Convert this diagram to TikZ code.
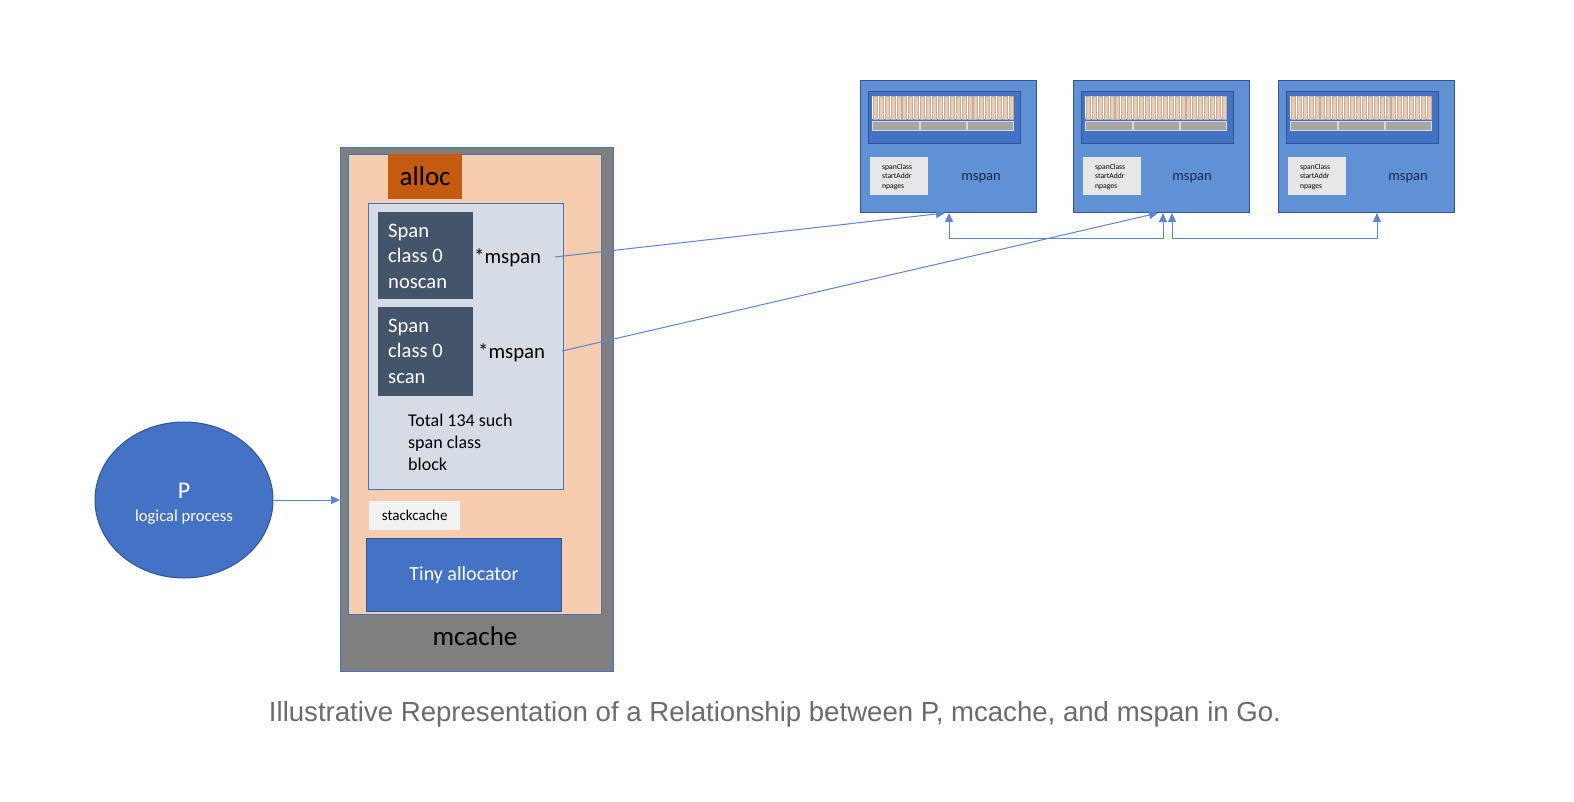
\documentclass[tikz,border=0pt]{standalone}
\usepackage{fontspec}
\setmainfont{Carlito}
\newfontfamily\capfont{Liberation Sans}
\usetikzlibrary{arrows.meta,calc,shapes.geometric}
\definecolor{mgray}{HTML}{7F7F7F}
\definecolor{peach}{HTML}{F6CDAF}
\definecolor{allocc}{HTML}{C55A11}
\definecolor{lightb}{HTML}{D6DCE5}
\definecolor{spanc}{HTML}{44546A}
\definecolor{stackc}{HTML}{F2F2F2}
\definecolor{accent}{HTML}{4472C4}
\definecolor{dkblue}{HTML}{2F5597}
\definecolor{msfill}{HTML}{5F91D4}
\definecolor{linec}{HTML}{5B86D0}
\definecolor{infoc}{HTML}{E7E6E6}
\definecolor{stripec}{HTML}{F5C9A6}
\definecolor{growc}{HTML}{A6A6A6}
\definecolor{navy}{HTML}{1B2A49}
\definecolor{capgray}{HTML}{6B6B6B}
\tikzset{
  fs/.style 2 args={font=\fontsize{#1}{#2}\selectfont},
  rbox/.style n args={2}{rectangle, inner sep=0pt, minimum width=#1, minimum height=#2, anchor=north west},
  arr/.style={draw=linec, line width=1pt, -{Triangle[width=8pt,length=9pt]}},
  darr/.style={draw=linec, line width=1pt, {Triangle[width=8pt,length=9pt]}-{Triangle[width=8pt,length=9pt]}},
}
\begin{document}
\begin{tikzpicture}[x=1pt,y=-1pt]
\useasboundingbox[fill=white] (0,0) rectangle (1574,802);

% mcache
\node[rbox={273pt}{524pt}, fill=mgray, draw=accent, line width=1pt] (mcache) at (340,147) {};
\node[rbox={253pt}{460pt}, fill=peach, draw=accent, line width=1pt] (inner) at (348,154) {};
\node[rbox={74pt}{45pt}, fill=allocc] (alloc) at (388,154) {};
\node[fs={27}{32}] (alloctext) at (alloc.center) {alloc};
\node[rbox={195pt}{286pt}, fill=lightb, draw=accent, line width=1pt] (block) at (368,203) {};
\node[rbox={95pt}{87pt}, fill=spanc] (span1) at (378,212) {};
\node[rbox={95pt}{89pt}, fill=spanc] (span2) at (378,307) {};
\node[anchor=west, align=left, text=white, fs={20.6}{25.5}, inner sep=0pt] (span1t) at (388,256) {Span\\class 0\\noscan};
\node[anchor=west, align=left, text=white, fs={20.6}{25.5}, inner sep=0pt] (span2t) at (388,351) {Span\\class 0\\scan};
\node[anchor=west, fs={20.8}{25}, inner sep=0pt] (ptr1) at (474,258) {*mspan};
\node[anchor=west, fs={20.8}{25}, inner sep=0pt] (ptr2) at (478,353) {*mspan};
\node[anchor=west, align=left, fs={18}{22}, inner sep=0pt] (total) at (408,442) {Total 134 such\\span class\\block};
\node[rbox={91pt}{29pt}, fill=stackc] (stack) at (369,501) {};
\node[fs={15}{18}] (stacktext) at (stack.center) {stackcache};
\node[rbox={195pt}{73pt}, fill=accent, draw=dkblue, line width=1pt] (tiny) at (366,538) {};
\node[fs={20}{24}, text=white] (tinytext) at (tiny.center) {Tiny allocator};
\node[fs={27}{32}] (mcachetext) at (475,636) {mcache};

% P
\node[ellipse, fill=accent, draw=dkblue, line width=1pt, minimum width=178pt, minimum height=156pt, inner sep=0pt] (P) at (184,500) {};
\node[fs={24}{28}, text=white] (Ptext) at (184,491) {P};
\node[fs={16.6}{20}, text=white] (Plabel) at (184,517) {logical process};
\draw[arr] (P.east) -- (P.east -| mcache.west);

% mspan blocks
\foreach \nm/\x/\mx in {b1/860/121, b2/1073/119, b3/1278/130}{
  \node[rbox={176pt}{132pt}, fill=msfill, draw=dkblue, line width=1pt] (\nm) at (\x,80) {};
  \node[rbox={152pt}{52pt}, fill=accent, draw=dkblue, line width=1pt] (\nm p) at ({\x+8},91) {};
  \fill[white] ({\x+12},96) rectangle ({\x+154},119);
  \foreach \i in {0,...,23}
    \draw[fill=stripec, draw=black!30, line width=0.35pt] ({\x+12+\i*5.917+1.0},96) rectangle ++(4.0,23);
  \foreach \j in {0,1,2}
    \draw[fill=growc, draw=black!15, line width=0.4pt] ({\x+12+\j*47.33+0.5},121) rectangle ++(46.3,9);
  \node[rbox={58pt}{38pt}, fill=infoc] (\nm i) at ({\x+10},157) {};
  \node[anchor=west, align=left, fs={7.6}{9.2}, inner sep=0pt] (\nm it) at ({\x+22},177) {spanClass\\startAddr\\npages};
  \node[fs={14.5}{17}, text=navy] (\nm t) at ({\x+\mx},178) {mspan};
}

% connectors
\coordinate (s1) at (555,257);
\coordinate (s2) at (562,351);
\coordinate (e1) at (945,213);
\coordinate (e2) at (1158,213);
\draw[arr] (s1) -- (e1);
\draw[arr] (s2) -- (e2);
\draw[darr] (b1.south west) ++(89,0) -- ++(0,26) -| ($(b2.south west)+(90,0)$);
\draw[darr] (b2.south west) ++(99,0) -- ++(0,26) -| ($(b3.south west)+(99,0)$);

% caption
\node[font=\capfont\fontsize{27.6}{32}\selectfont, text=capgray] (cap) at (775,714) {Illustrative Representation of a Relationship between P, mcache, and mspan in Go.};
\end{tikzpicture}
\end{document}
